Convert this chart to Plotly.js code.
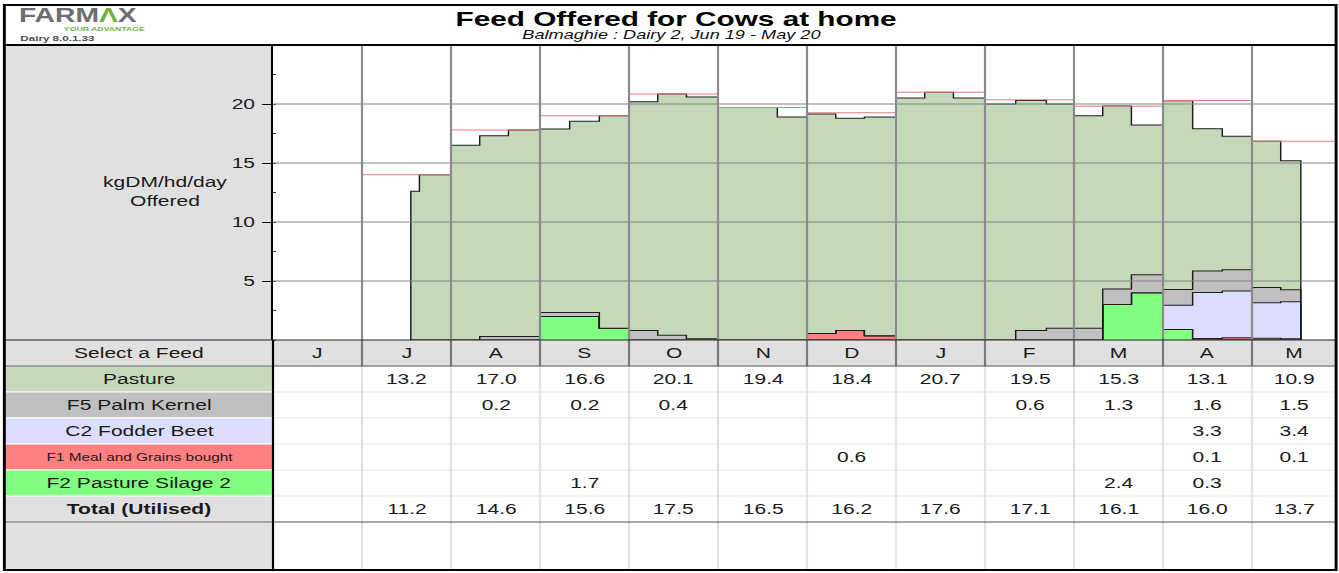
<!DOCTYPE html>
<html>
<head>
<meta charset="utf-8">
<script src="https://cdn.plot.ly/plotly-3.0.1.min.js"></script>
<style>
html,body{margin:0;padding:0;background:#fff;overflow:hidden;}
#chart{width:923px;height:573px;transform-origin:0 0;}
</style>
</head>
<body>
<div id="chart"></div>
<script>
// ---------------- DATA ----------------
const months = ['J','J','A','S','O','N','D','J','F','M','A','M'];

// 10-day feeding periods (start dates) and end of the feeding season
const periodStart = ['2019-07-18','2019-07-21',
  '2019-08-01','2019-08-11','2019-08-21',
  '2019-09-01','2019-09-11','2019-09-21',
  '2019-10-01','2019-10-11','2019-10-21',
  '2019-11-01','2019-11-11','2019-11-21',
  '2019-12-01','2019-12-11','2019-12-21',
  '2020-01-01','2020-01-11','2020-01-21',
  '2020-02-01','2020-02-11','2020-02-21',
  '2020-03-01','2020-03-11','2020-03-21',
  '2020-04-01','2020-04-11','2020-04-21',
  '2020-05-01','2020-05-11'];
const seasonEnd = '2020-05-18';

// kgDM/hd/day offered, per period
const pasturePeriod    = [12.6,14.0, 16.5,17.0,17.5, 15.55,16.2,18.0, 19.4,20.45,20.5, 19.7,19.7,18.9, 18.6,18.0,18.55, 20.5,21.0,20.5, 20.0,19.5,19.0, 18.0,15.5,12.7, 16.0,12.05,11.3, 12.4,10.95];
const palmKernelPeriod = [0,0, 0,0.3,0.3, 0.33,0.33,0, 0.8,0.4,0.1, 0,0,0, 0,0,0, 0,0,0, 0,0.8,1.0, 1.0,1.33,1.52, 1.33,1.83,1.81, 1.3,1.0];
const fodderBeetPeriod = [0,0, 0,0,0, 0,0,0, 0,0,0, 0,0,0, 0,0,0, 0,0,0, 0,0,0, 0,0,0, 2.05,3.9,3.95, 3.0,3.15];
const mealPeriod       = [0,0, 0,0,0, 0,0,0, 0,0,0, 0,0,0, 0.55,0.8,0.35, 0,0,0, 0,0,0, 0,0,0, 0,0.12,0.2, 0.15,0.1];
const silagePeriod     = [0,0, 0,0,0, 2.0,2.0,1.0, 0,0,0, 0,0,0, 0,0,0, 0,0,0, 0,0,0, 0,3.0,4.0, 0.9,0,0, 0,0];

// monthly offered target (red line)
const offeredTargetMonthly = [null,14.0,17.8,19.0,20.85,19.7,19.25,21.0,20.35,19.8,20.3,16.85];

// monthly table values
const pastureMonthly       = [null,13.2,17.0,16.6,20.1,19.4,18.4,20.7,19.5,15.3,13.1,10.9];
const palmKernelMonthly    = [null,null,0.2,0.2,0.4,null,null,null,0.6,1.3,1.6,1.5];
const fodderBeetMonthly    = [null,null,null,null,null,null,null,null,null,null,3.3,3.4];
const mealMonthly          = [null,null,null,null,null,null,0.6,null,null,null,0.1,0.1];
const silageMonthly        = [null,null,null,1.7,null,null,null,null,null,2.4,0.3,null];
const totalUtilisedMonthly = [null,11.2,14.6,15.6,17.5,16.5,16.2,17.6,17.1,16.1,16.0,13.7];

const yTickVals = [5,10,15,20];

// ---------------- GEOMETRY (reference pixels) ----------------
const W = 923, H = 573;
const S = 1339 / W;           // horizontal stretch of the picture
const ML = 3, MR = 2, MT = 5, MB = 3;
const PL = ML * S, PR = (W - MR) * S, PT = MT, PB = H - MB;
const X = px => (px - PL) / (PR - PL);
const Y = py => (PB - py) / (PB - PT);
const PLOT_L = 273, COL = 89, HEAD_B = 45, PLOT_B = 340;
const rowEdges = [340,366,392,418,444,470,496,522,570];
const xMax = (PR - PLOT_L) / COL;
const FONT = 'Liberation Sans, Arial, Helvetica, sans-serif';

function monthIndex(s){
  const [y,m,d] = s.split('-').map(Number);
  const dim = new Date(Date.UTC(y, m, 0)).getUTCDate();
  return (y - 2019) * 12 + (m - 6) + (d - 1) / dim;
}

// ---------------- TRACES ----------------
const stack = [
  {name:'F2 Pasture Silage 2', v: silagePeriod, fill:'#80ff80'},
  {name:'F1 Meal and Grains bought', v: mealPeriod, fill:'#ff8080'},
  {name:'C2 Fodder Beet', v: fodderBeetPeriod, fill:'#dcdcfc'},
  {name:'F5 Palm Kernel', v: palmKernelPeriod, fill:'#c0c0c0'},
  {name:'Pasture', v: pasturePeriod, fill:'#c5d8ba'}
];
const xs = periodStart.map(monthIndex);
const xEnd = monthIndex(seasonEnd);
let cum = xs.map(() => 0);
const traces = stack.map((layer, i) => {
  cum = cum.map((c, j) => c + layer.v[j]);
  return {
    type:'scatter', mode:'lines', name: layer.name,
    x: [xs[0], ...xs, xEnd, xEnd],
    y: [0, ...cum, cum[cum.length - 1], 0],
    line:{shape:'hv', color:'#1c1c1c', width:1},
    fill: i === 0 ? 'tozeroy' : 'tonexty',
    fillcolor: layer.fill, hoverinfo:'skip', showlegend:false
  };
});
const tx = [], ty = [];
offeredTargetMonthly.forEach((v, m) => { if (v == null) return; tx.push(m, m + 1, null); ty.push(v, v, null); });
traces.push({type:'scatter', mode:'lines', x:tx, y:ty, line:{color:'#e87a7a', width:1},
  hoverinfo:'skip', showlegend:false, connectgaps:false});

// ---------------- SHAPES ----------------
const shapes = [];
const rectP = (x0,x1,y0,y1,fill,line,layer) => shapes.push({type:'rect', xref:'paper', yref:'paper',
  x0:X(x0), x1:X(x1), y0:Y(y1), y1:Y(y0), fillcolor:fill, line:line || {width:0}, layer:layer || 'below'});
const lineP = (x0,x1,y0,y1,color,width) => shapes.push({type:'line', xref:'paper', yref:'paper',
  x0:X(x0), x1:X(x1), y0:Y(y0), y1:Y(y1), line:{color, width}, layer:'above'});

// left label panel beside plot
rectP(PL, PLOT_L, HEAD_B, PLOT_B, '#e0e0e0');
// table header row
rectP(PL, PR, rowEdges[0], rowEdges[1], '#e0e0e0');
const labelFills = ['#c5d8ba','#c0c0c0','#dcdcfc','#ff8080','#80ff80','#e0e0e0','#e0e0e0'];
labelFills.forEach((f, i) => rectP(PL, PLOT_L, rowEdges[i+1], rowEdges[i+2], f, {color:'#ffffff', width:1}));

// plot grid above fills
yTickVals.forEach(v => shapes.push({type:'line', xref:'paper', yref:'y', x0:X(PLOT_L), x1:1, y0:v, y1:v,
  line:{color:'#838383', width:1}, layer:'above'}));
for (let m = 1; m < months.length; m++) {
  shapes.push({type:'line', xref:'x', yref:'paper', x0:m, x1:m, y0:Y(PLOT_B), y1:Y(HEAD_B),
    line:{color:'#8a8a8a', width:1.5}, layer:'above'});
  shapes.push({type:'line', xref:'x', yref:'paper', x0:m, x1:m, y0:Y(rowEdges[1]), y1:Y(rowEdges[0]),
    line:{color:'#7a7a7a', width:1.5}, layer:'above'});
  shapes.push({type:'line', xref:'x', yref:'paper', x0:m, x1:m, y0:Y(rowEdges[8]), y1:Y(rowEdges[1]),
    line:{color:'#e2e2e2', width:1.5}, layer:'above'});
}
// table horizontal rules
for (let i = 2; i <= 6; i++) lineP(PLOT_L, PR, rowEdges[i], rowEdges[i], '#e2e2e2', 1);
lineP(PL, PR, rowEdges[0], rowEdges[0], '#222', 1);
lineP(PL, PR, rowEdges[1], rowEdges[1], '#555', 1);
lineP(PL, PR, rowEdges[7], rowEdges[7], '#555', 1);
// left column border through table
lineP(PLOT_L, PLOT_L, PLOT_B, PB, '#000', 1.5);
// header rule + frame
lineP(PL, PR, HEAD_B, HEAD_B, '#000', 2);
shapes.push({type:'rect', xref:'paper', yref:'paper', x0:0, x1:1, y0:0, y1:1,
  line:{color:'#000', width:2}, fillcolor:'rgba(0,0,0,0)', layer:'above'});

// ---------------- ANNOTATIONS ----------------
const annotations = [];
const ann = o => annotations.push(Object.assign({showarrow:false, xanchor:'center', yanchor:'middle',
  xref:'paper', yref:'paper', borderpad:0}, o));

ann({x:X(676), y:Y(18), text:'<b>Feed Offered for Cows at home</b>', font:{family:FONT, size:20.5, color:'#000'}});
ann({x:X(672), y:Y(35), text:'<i>Balmaghie : Dairy 2, Jun 19 - May 20</i>', font:{family:FONT, size:12.5, color:'#111'}});
ann({x:X(18), y:Y(14.5), xanchor:'left', text:'<b>FARM<span style="color:#6db33f">Λ</span>X</b>', font:{family:FONT, size:19.5, color:'#6d6e71'}});
ann({x:X(146), y:Y(29.5), xanchor:'right', text:'<b>YOUR ADVANTAGE</b>', font:{family:FONT, size:6, color:'#6db33f'}});
ann({x:X(19), y:Y(38.5), xanchor:'left', text:'<b>Dairy 8.0.1.33</b>', font:{family:FONT, size:8, color:'#4d4d4d'}});
ann({x:X(165.5), y:Y(191), text:'kgDM/hd/day<br>Offered', font:{family:FONT, size:14.5, color:'#1a1a1a'}});

const rowLabels = [
  {t:'Select a Feed', size:14.5},
  {t:'Pasture', size:14.5},
  {t:'F5 Palm Kernel', size:14.5},
  {t:'C2 Fodder Beet', size:14.5},
  {t:'F1 Meal and Grains bought', size:10.6},
  {t:'F2 Pasture Silage 2', size:14.5},
  {t:'<b>Total (Utilised)</b>', size:14.5}
];
rowLabels.forEach((r, i) => ann({x:X((PL + PLOT_L) / 2), y:Y((rowEdges[i] + rowEdges[i+1]) / 2),
  text:r.t, font:{family:FONT, size:r.size, color:'#1a1a1a'}}));

const colCenter = m => Math.min(m + 0.5, (m + xMax) / 2);
months.forEach((mo, m) => ann({xref:'x', x:colCenter(m), y:Y((rowEdges[0] + rowEdges[1]) / 2),
  text:mo, font:{family:FONT, size:14.5, color:'#1a1a1a'}}));

const tableSeries = [pastureMonthly, palmKernelMonthly, fodderBeetMonthly, mealMonthly, silageMonthly, totalUtilisedMonthly];
tableSeries.forEach((arr, r) => arr.forEach((v, m) => {
  if (v == null) return;
  ann({xref:'x', x:colCenter(m), y:Y((rowEdges[r+1] + rowEdges[r+2]) / 2), text:v.toFixed(1),
    font:{family:FONT, size:14.5, color:'#1a1a1a'}});
}));

// ---------------- LAYOUT ----------------
const layout = {
  width:W, height:H, margin:{l:ML, r:MR, t:MT, b:MB, pad:0},
  paper_bgcolor:'#ffffff', plot_bgcolor:'#ffffff', showlegend:false,
  font:{family:FONT, color:'#1a1a1a'},
  xaxis:{domain:[X(PLOT_L), 1], range:[0, xMax], showgrid:false, zeroline:false,
    showticklabels:false, ticks:'', showline:false, fixedrange:true},
  yaxis:{domain:[Y(PLOT_B), Y(HEAD_B)], range:[0, 25], tickvals:yTickVals, ticks:'outside',
    ticklen:6, tickwidth:1, tickcolor:'#000', showgrid:false, zeroline:false,
    showline:true, linecolor:'#000', linewidth:1.5, ticklabelstandoff:2,
    tickfont:{family:FONT, size:14.5, color:'#1a1a1a'},
    minor:{dtick:2.5, ticks:'inside', ticklen:2, tickcolor:'#333', tickwidth:1, showgrid:false},
    fixedrange:true},
  shapes, annotations
};

const el = document.getElementById('chart');
el.style.transform = 'scaleX(' + S + ')';
Plotly.newPlot(el, traces, layout, {staticPlot:true, displayModeBar:false});
</script>
</body>
</html>
